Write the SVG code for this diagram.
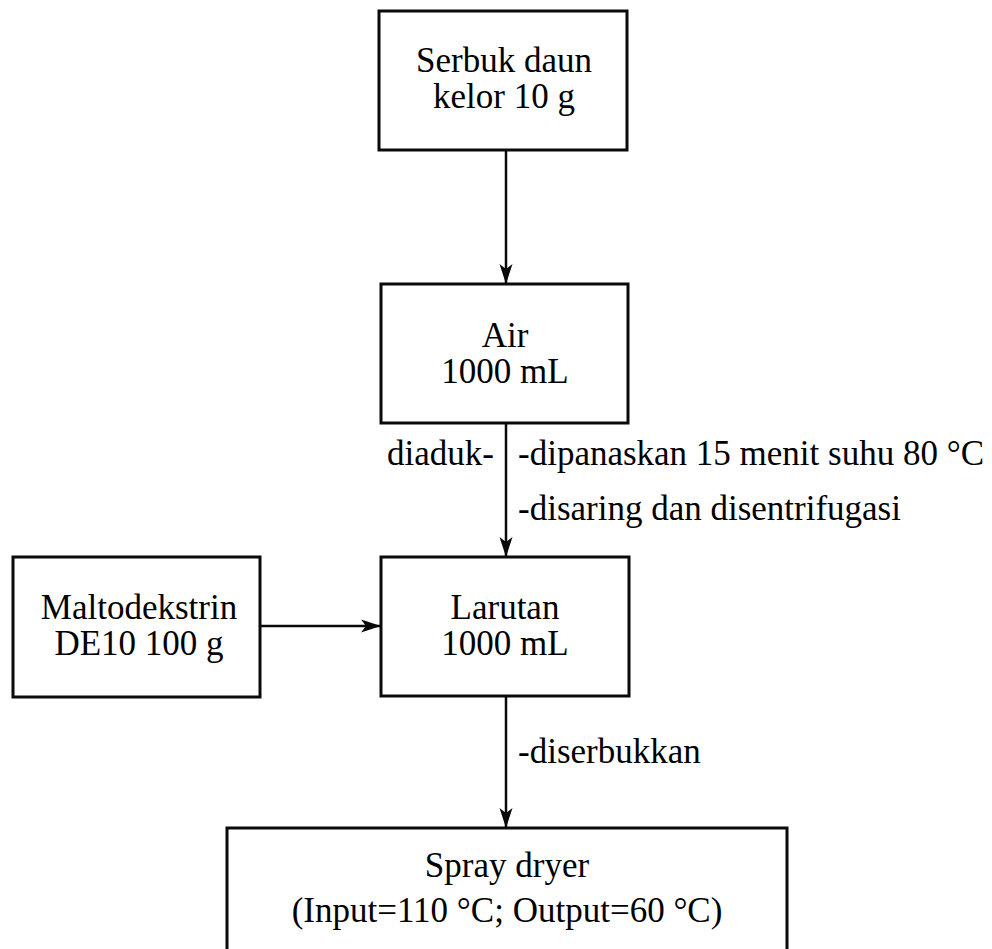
<svg xmlns="http://www.w3.org/2000/svg" width="992" height="949" viewBox="0 0 992 949">
  <style>
    .box { fill: #ffffff; stroke: #0a0a0a; stroke-width: 3; }
    .conn { fill: none; stroke: #0a0a0a; stroke-width: 2.5; }
    .lbl { font-family: "Liberation Serif", "Times New Roman", serif; font-size: 35px; fill: #000000; }
    .mid { text-anchor: middle; }
  </style>
  <defs>
    <marker id="arrow" markerUnits="userSpaceOnUse" markerWidth="22" markerHeight="16" refX="20" refY="8" orient="auto">
      <path d="M0,1.5 L20,8 L0,14.5 L5,8 z" fill="#0a0a0a"/>
    </marker>
  </defs>
  <rect width="992" height="949" fill="#ffffff"/>

  <!-- flow connectors and their step notes -->
  <g id="connectors">
    <line class="conn" x1="506" y1="150" x2="506" y2="284" marker-end="url(#arrow)"/>
    <line class="conn" x1="506" y1="423" x2="506" y2="557" marker-end="url(#arrow)"/>
    <line class="conn" x1="260" y1="626" x2="381" y2="626" marker-end="url(#arrow)"/>
    <line class="conn" x1="506" y1="696" x2="506" y2="828" marker-end="url(#arrow)"/>
    <text class="lbl" x="387" y="465">diaduk-</text>
    <text class="lbl" x="518" y="465">-dipanaskan 15 menit suhu 80 °C</text>
    <text class="lbl" x="518" y="520">-disaring dan disentrifugasi</text>
    <text class="lbl" x="518" y="763">-diserbukkan</text>
  </g>

  <g id="serbuk">
    <rect class="box" x="379" y="11" width="248" height="139"/>
    <text class="lbl mid" x="504" y="72">Serbuk daun</text>
    <text class="lbl mid" x="504" y="108">kelor 10 g</text>
  </g>

  <g id="air">
    <rect class="box" x="381" y="284" width="247" height="139"/>
    <text class="lbl mid" x="505" y="347">Air</text>
    <text class="lbl mid" x="505" y="383">1000 mL</text>
  </g>

  <g id="larutan">
    <rect class="box" x="381" y="557" width="248" height="139"/>
    <text class="lbl mid" x="505" y="619">Larutan</text>
    <text class="lbl mid" x="505" y="655">1000 mL</text>
  </g>

  <g id="maltodekstrin">
    <rect class="box" x="13" y="557" width="247" height="140"/>
    <text class="lbl mid" x="139" y="619">Maltodekstrin</text>
    <text class="lbl mid" x="139" y="655">DE10 100 g</text>
  </g>

  <g id="spray-dryer">
    <rect class="box" x="227" y="828" width="560" height="140"/>
    <text class="lbl mid" x="507" y="877">Spray dryer</text>
    <text class="lbl mid" x="507" y="922">(Input=110 °C; Output=60 °C)</text>
  </g>
</svg>
